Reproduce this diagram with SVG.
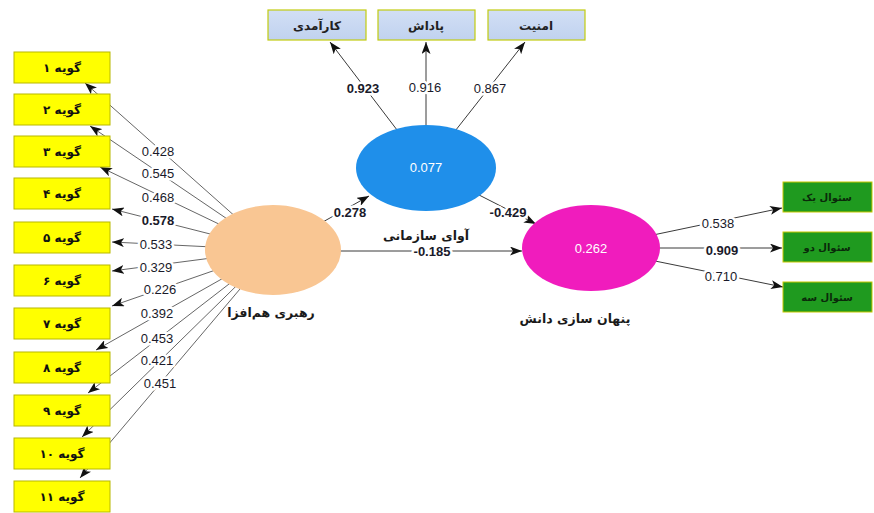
<svg xmlns="http://www.w3.org/2000/svg" width="874" height="513" viewBox="0 0 874 513">
<defs>
<marker id="ah" viewBox="0 0 12 9" refX="12" refY="4.5" markerWidth="12" markerHeight="9" markerUnits="userSpaceOnUse" orient="auto">
<path d="M0,0 L12,4.5 L0,9 L3,4.5 z" fill="#111"/>
</marker>
<linearGradient id="bg" x1="0" y1="0" x2="0" y2="1">
<stop offset="0" stop-color="#d2dff5"/>
<stop offset="1" stop-color="#c0d2ef"/>
</linearGradient>
<style>
.ln{stroke:#3a3a3a;stroke-width:1;fill:none;marker-end:url(#ah)}
.lt{stroke:#555;stroke-width:0.9;fill:none;marker-end:url(#ah)}
.num{font-family:"Liberation Sans",Arial,sans-serif;font-size:13px;fill:#1a1a2a;text-anchor:middle;dominant-baseline:central;stroke:#fff;stroke-width:5px;paint-order:stroke;stroke-linejoin:round}
.b{font-weight:bold}
.yb{fill:#ffff00;stroke:#b8b800;stroke-width:1}
.tb{fill:url(#bg);stroke:#c2cc10;stroke-width:1.2}
.gb{fill:#1f9a1f;stroke:#c8c800;stroke-width:1}
.fa{font-family:"DejaVu Sans",sans-serif;font-weight:bold;text-anchor:middle;dominant-baseline:central}
.yt{font-size:12px;fill:#111}
.tt{font-size:12px;fill:#222}
.gt{font-size:10px;fill:#0a2a0a}
.lab{font-size:12.5px;fill:#1a1a1a}
.ev{font-family:"Liberation Sans",Arial,sans-serif;font-size:13px;fill:#fff;text-anchor:middle;dominant-baseline:central}
</style>
</defs>
<rect width="874" height="513" fill="#fff"/>
<g id="connectors">
<line class="lt" x1="273" y1="250" x2="85" y2="83"/>
<line class="lt" x1="273" y1="250" x2="90" y2="126"/>
<line class="lt" x1="273" y1="250" x2="100" y2="167"/>
<line class="lt" x1="273" y1="250" x2="112" y2="209"/>
<line class="lt" x1="273" y1="250" x2="112" y2="242"/>
<line class="lt" x1="273" y1="250" x2="112" y2="271"/>
<line class="lt" x1="273" y1="250" x2="112" y2="306"/>
<line class="lt" x1="273" y1="250" x2="96" y2="350"/>
<line class="lt" x1="273" y1="250" x2="88" y2="393"/>
<line class="lt" x1="273" y1="250" x2="82" y2="437"/>
<line class="lt" x1="273" y1="250" x2="80" y2="478"/>
<line class="ln" x1="426" y1="168" x2="330" y2="42"/>
<line class="ln" x1="426" y1="168" x2="426" y2="42"/>
<line class="ln" x1="426" y1="168" x2="525" y2="42"/>
<line class="ln" x1="273" y1="250" x2="369" y2="196"/>
<line class="ln" x1="426" y1="168" x2="536" y2="224"/>
<line class="ln" x1="273" y1="251" x2="522" y2="251"/>
<line class="ln" x1="591" y1="248" x2="782" y2="208"/>
<line class="ln" x1="591" y1="248" x2="782" y2="248"/>
<line class="ln" x1="591" y1="248" x2="783" y2="287"/>
<text class="num" x="158" y="151">0.428</text>
<text class="num" x="158" y="173">0.545</text>
<text class="num" x="158" y="197">0.468</text>
<text class="num b" x="158" y="220">0.578</text>
<text class="num" x="156" y="244">0.533</text>
<text class="num" x="156" y="267">0.329</text>
<text class="num" x="160" y="289">0.226</text>
<text class="num" x="157" y="313">0.392</text>
<text class="num" x="157" y="338">0.453</text>
<text class="num" x="157" y="360">0.421</text>
<text class="num" x="160" y="383">0.451</text>
<text class="num b" x="363" y="88">0.923</text>
<text class="num" x="425" y="87">0.916</text>
<text class="num" x="490" y="88">0.867</text>
<text class="num b" x="350" y="212">0.278</text>
<text class="num b" x="508" y="212">-0.429</text>
<text class="num b" x="432" y="251">-0.185</text>
<text class="num" x="718" y="223">0.538</text>
<text class="num b" x="722" y="250">0.909</text>
<text class="num" x="721" y="276">0.710</text>
</g>
<g id="item1"><rect class="yb" x="14" y="52" width="96" height="31"/><text class="fa yt" x="62" y="68">گویه ۱</text></g>
<g id="item2"><rect class="yb" x="14" y="94" width="96" height="31"/><text class="fa yt" x="62" y="110">گویه ۲</text></g>
<g id="item3"><rect class="yb" x="14" y="136" width="96" height="31"/><text class="fa yt" x="62" y="152">گویه ۳</text></g>
<g id="item4"><rect class="yb" x="14" y="178" width="96" height="31"/><text class="fa yt" x="62" y="194">گویه ۴</text></g>
<g id="item5"><rect class="yb" x="14" y="222" width="96" height="31"/><text class="fa yt" x="62" y="238">گویه ۵</text></g>
<g id="item6"><rect class="yb" x="14" y="265" width="96" height="31"/><text class="fa yt" x="62" y="281">گویه ۶</text></g>
<g id="item7"><rect class="yb" x="14" y="308" width="96" height="31"/><text class="fa yt" x="62" y="324">گویه ۷</text></g>
<g id="item8"><rect class="yb" x="14" y="352" width="96" height="31"/><text class="fa yt" x="62" y="368">گویه ۸</text></g>
<g id="item9"><rect class="yb" x="14" y="395" width="96" height="31"/><text class="fa yt" x="62" y="411">گویه ۹</text></g>
<g id="item10"><rect class="yb" x="14" y="438" width="96" height="31"/><text class="fa yt" x="62" y="454">گویه ۱۰</text></g>
<g id="item11"><rect class="yb" x="14" y="481" width="96" height="31"/><text class="fa yt" x="62" y="497">گویه ۱۱</text></g>
<g id="efficiency"><rect class="tb" x="268" y="10" width="98" height="30"/><text class="fa tt" x="317" y="26">کارآمدی</text></g>
<g id="reward"><rect class="tb" x="378" y="10" width="97" height="30"/><text class="fa tt" x="426" y="26">پاداش</text></g>
<g id="security"><rect class="tb" x="488" y="10" width="97" height="30"/><text class="fa tt" x="536" y="26">امنیت</text></g>
<g id="q1"><rect class="gb" x="783" y="182" width="89" height="30"/><text class="fa gt" x="827" y="197">سئوال یک</text></g>
<g id="q2"><rect class="gb" x="783" y="232" width="89" height="30"/><text class="fa gt" x="827" y="247">سئوال دو</text></g>
<g id="q3"><rect class="gb" x="783" y="282" width="89" height="30"/><text class="fa gt" x="827" y="297">سئوال سه</text></g>
<g id="leadership"><ellipse cx="273" cy="250" rx="68" ry="45" fill="#f9c693"/><text class="fa lab" x="271" y="312">رهبری هم&#x200C;افزا</text></g>
<g id="voice"><ellipse cx="426" cy="168" rx="70" ry="43" fill="#1f8fea"/><text class="ev" x="426" y="167">0.077</text><text class="fa lab" x="426" y="235">آوای سازمانی</text></g>
<g id="hiding"><ellipse cx="591" cy="248" rx="69" ry="43" fill="#f01cbd"/><text class="ev" x="591" y="248">0.262</text><text class="fa lab" x="575" y="318">پنهان سازی دانش</text></g>
</svg>
